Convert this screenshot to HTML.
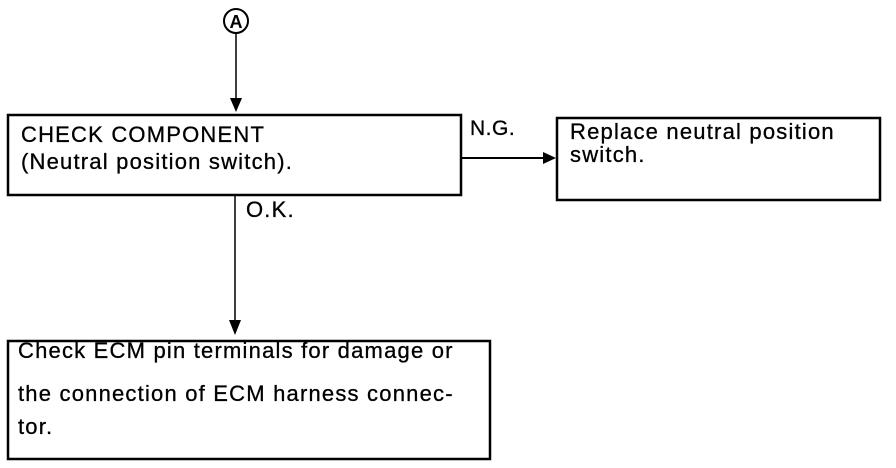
<!DOCTYPE html>
<html><head><style>
body{margin:0;width:896px;height:468px;background:#fff;position:relative;overflow:hidden;font-family:"Liberation Sans",Arial,sans-serif;color:#000}
.t{position:absolute;font-size:22px;letter-spacing:1.2px;white-space:nowrap;line-height:1;-webkit-text-stroke:0.3px #000}
</style></head><body>
<svg width="896" height="468" style="position:absolute;left:0;top:0">
<circle cx="236" cy="21" r="12" fill="none" stroke="#000" stroke-width="2"/>
<text x="236" y="28" text-anchor="middle" font-family="Liberation Sans" font-weight="bold" font-size="18">A</text>
<line x1="236" y1="33" x2="236" y2="100" stroke="#000" stroke-width="1.5"/>
<polygon points="230,98 242,98 236,112" fill="#000"/>
<rect x="8" y="115" width="453" height="80" fill="none" stroke="#000" stroke-width="2.5"/>
<line x1="461" y1="158" x2="545" y2="158" stroke="#000" stroke-width="2"/>
<polygon points="543,152 543,164 556,158" fill="#000"/>
<rect x="557" y="118" width="323" height="82" fill="none" stroke="#000" stroke-width="2.5"/>
<line x1="235" y1="195" x2="235" y2="322" stroke="#000" stroke-width="1.5"/>
<polygon points="229,320 241,320 235,335" fill="#000"/>
<rect x="8" y="341" width="482" height="118" fill="none" stroke="#000" stroke-width="2.5"/>
</svg>
<div class="t" style="left:21px;top:124px">CHECK COMPONENT</div>
<div class="t" style="left:21px;top:151px">(Neutral position switch).</div>
<div class="t" style="left:470px;top:118px;font-size:21px;letter-spacing:0.5px">N.G.</div>
<div class="t" style="left:570px;top:121px">Replace neutral position</div>
<div class="t" style="left:570px;top:144px">switch.</div>
<div class="t" style="left:246px;top:199px">O.K.</div>
<div class="t" style="left:18px;top:340px">Check ECM pin terminals for damage or</div>
<div class="t" style="left:18px;top:383px">the connection of ECM harness connec-</div>
<div class="t" style="left:18px;top:416px">tor.</div>
</body></html>
